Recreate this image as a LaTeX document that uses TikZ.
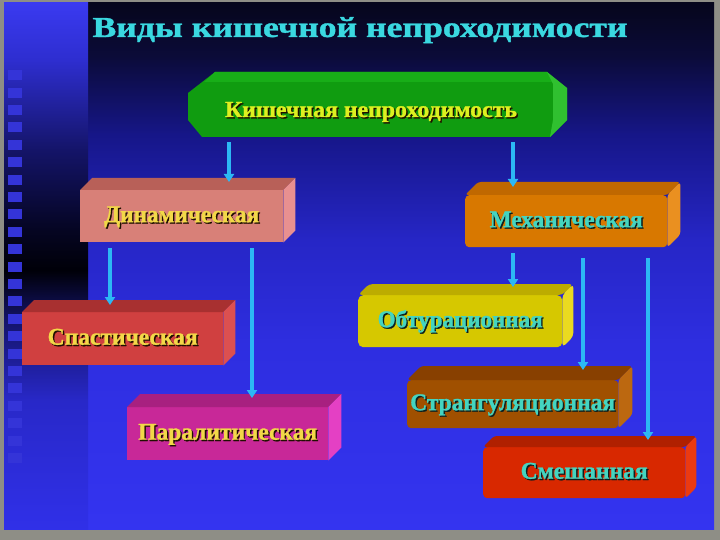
\documentclass[tikz,border=0pt]{standalone}
\usepackage{fontspec}
\setmainfont{Liberation Serif}[BoldFeatures={FakeBold=1.2}]
\usepackage{graphicx}
\usetikzlibrary{calc,arrows.meta}

\definecolor{bordergray}{HTML}{8E8E86}
\definecolor{mBot}{HTML}{3434F0}
\definecolor{mM1}{HTML}{2E2EE0}
\definecolor{mM2}{HTML}{2626C6}
\definecolor{mM3}{HTML}{161688}
\definecolor{mM4}{HTML}{0B0B38}
\definecolor{mTop}{HTML}{06061C}
\definecolor{sBot}{HTML}{3030E8}
\definecolor{s1}{HTML}{2828C8}
\definecolor{s2}{HTML}{14146A}
\definecolor{s3}{HTML}{000008}
\definecolor{s4}{HTML}{050522}
\definecolor{s5}{HTML}{141468}
\definecolor{s6}{HTML}{2E2ED0}
\definecolor{sTop}{HTML}{3A3AF0}
\definecolor{sqcol}{HTML}{3434D8}
\definecolor{arrc}{HTML}{2CB8F4}
\definecolor{titlec}{HTML}{3AD8E0}
\definecolor{ytxt}{HTML}{F2D848}
\definecolor{ctxt}{HTML}{44D4C0}
\definecolor{gtxt}{HTML}{DDF020}
\definecolor{shd}{HTML}{201000}
\definecolor{shdc}{HTML}{0A2020}
% box colours
\definecolor{grF}{HTML}{109C10}
\definecolor{grT}{HTML}{18AE18}
\definecolor{grS}{HTML}{30C030}
\definecolor{dyF}{HTML}{D88078}
\definecolor{dyT}{HTML}{B86058}
\definecolor{dyS}{HTML}{E89090}
\definecolor{spF}{HTML}{D04040}
\definecolor{spT}{HTML}{A83030}
\definecolor{spS}{HTML}{DC5050}
\definecolor{paF}{HTML}{C82898}
\definecolor{paT}{HTML}{A82080}
\definecolor{paS}{HTML}{E440C4}
\definecolor{meF}{HTML}{D87800}
\definecolor{meT}{HTML}{C06800}
\definecolor{meS}{HTML}{EA9020}
\definecolor{obF}{HTML}{D6C800}
\definecolor{obT}{HTML}{BCAC00}
\definecolor{obS}{HTML}{EADA20}
\definecolor{stF}{HTML}{A05000}
\definecolor{stT}{HTML}{884000}
\definecolor{stS}{HTML}{BC6810}
\definecolor{smF}{HTML}{D82800}
\definecolor{smT}{HTML}{B02000}
\definecolor{smS}{HTML}{EC3A10}

\pgfdeclareverticalshading{mainsh}{100bp}{color(0bp)=(mBot); color(25bp)=(mBot); color(42.5bp)=(mM1); color(52.5bp)=(mM2); color(62.5bp)=(mM3); color(70bp)=(mM4); color(75bp)=(mTop); color(100bp)=(mTop)}
\pgfdeclareverticalshading{stripsh}{100bp}{color(0bp)=(sBot); color(25bp)=(sBot); color(37.2bp)=(s1); color(44.8bp)=(s2); color(49.6bp)=(s3); color(53.4bp)=(s4); color(61bp)=(s5); color(69.6bp)=(s6); color(75bp)=(sTop); color(100bp)=(sTop)}

\newcommand\shtxt[4]{\resizebox{#3}{\height}{\rlap{\kern1.4pt\raisebox{-1.4pt}{\color{#2}#4}}{\color{#1}#4}}}

\newcommand\boxfaces[5][]{%
  \fill[#4,#1] (#2.north west) -- ++(#3,-#3) -- ($(#2.north east)+(#3,-#3)$) -- (#2.north east) -- cycle;
  \fill[#5,#1] (#2.north east) -- ++(#3,-#3) -- ($(#2.south east)+(#3,-#3)$) -- (#2.south east) -- cycle;
}

\tikzset{
  face/.style={anchor=north west, inner sep=0pt, text height=12pt, text depth=0pt,
    font=\bfseries\fontsize{24}{26}\selectfont},
  arr/.style={draw=arrc, line width=3.2pt, -{Triangle[length=8pt,width=10pt]}},
}

\begin{document}
\begin{tikzpicture}[x=1pt,y=-1pt]
\useasboundingbox (0,0) rectangle (720,540);
% background
\fill[bordergray] (0,0) rectangle (720,540);
\shade[shading=mainsh] (88,3) rectangle (714,529);
\shade[shading=stripsh] (4,3) rectangle (88,529);
\foreach \k in {-7,...,15} {
  \fill[sqcol] (8,{192+17.4*\k}) rectangle (22,{202+17.4*\k});
}

% title
\node[anchor=base, inner sep=0pt, font=\bfseries\fontsize{29}{32}\selectfont] (title) at (360,37)
  {\resizebox{535pt}{\height}{\color{titlec}Виды кишечной непроходимости}};

% root box (chamfered)
\fill[grF] (215,72) -- (547,72) -- (567,88) -- (567,120) -- (550,137) -- (202,137) -- (188,120) -- (188,93) -- cycle;
\fill[grT] (215,72) -- (547,72) -- (556,82) -- (204,82) -- cycle;
\fill[grS] (547,72) -- (567,88) -- (567,120) -- (550,137) -- (553,120) -- (553,84) -- cycle;
\node[face, anchor=center, minimum width=340pt, minimum height=52pt, font=\bfseries\fontsize{23}{25}\selectfont] (kish) at (371,111)
  {\shtxt{gtxt}{shd}{292pt}{Кишечная непроходимость}};

% level 2
\node[face, fill=dyF, minimum width=203pt, minimum height=52pt] (dyn) at (80,190)
  {\shtxt{ytxt}{shd}{155pt}{Динамическая}};
\boxfaces{dyn}{12}{dyT}{dyS}
\node[face, fill=meF, rounded corners=4pt, minimum width=202pt, minimum height=52pt] (mech) at (465,195)
  {\shtxt{ctxt}{shdc}{153pt}{Механическая}};
\boxfaces[rounded corners=3pt]{mech}{13}{meT}{meS}

% level 3 left
\node[face, fill=spF, minimum width=201pt, minimum height=53pt] (spas) at (22,312)
  {\shtxt{ytxt}{shd}{150pt}{Спастическая}};
\boxfaces{spas}{12}{spT}{spS}
\node[face, fill=paF, minimum width=201pt, minimum height=53pt] (par) at (127,407)
  {\shtxt{ytxt}{shd}{179pt}{Паралитическая}};
\boxfaces{par}{13}{paT}{paS}

% level 3 right
\node[face, fill=obF, rounded corners=5pt, minimum width=204pt, minimum height=52pt] (obt) at (358,295)
  {\shtxt{ctxt}{shdc}{165pt}{Обтурационная}};
\boxfaces[rounded corners=4pt]{obt}{11}{obT}{obS}
\node[face, fill=stF, rounded corners=4pt, minimum width=211pt, minimum height=48pt] (str) at (407,380)
  {\shtxt{ctxt}{shdc}{205pt}{Странгуляционная}};
\boxfaces[rounded corners=3pt]{str}{14}{stT}{stS}
\node[face, fill=smF, rounded corners=4pt, minimum width=202pt, minimum height=51pt] (smes) at (483,447)
  {\shtxt{ctxt}{shdc}{127pt}{Смешанная}};
\boxfaces[rounded corners=3pt]{smes}{11}{smT}{smS}

% connectors
\coordinate (xa) at ([xshift=149pt]dyn.north west);
\coordinate (xb) at ([xshift=48pt]mech.north west);
\coordinate (xc) at ([xshift=88pt]spas.north west);
\coordinate (xd) at ([xshift=125pt]par.north west);
\coordinate (xe) at ([xshift=155pt]obt.north west);
\coordinate (xf) at ([xshift=176pt]str.north west);
\coordinate (xg) at ([xshift=165pt]smes.north west);
\draw[arr] ([yshift=-5pt]kish.south -| xa) -- ([yshift=8pt]xa);
\draw[arr] ([yshift=-5pt]kish.south -| xb) -- ([yshift=8pt]xb);
\draw[arr] ([yshift=-6pt]dyn.south -| xc) -- ([yshift=7pt]xc);
\draw[arr] ([yshift=-6pt]dyn.south -| xd) -- ([yshift=9pt]xd);
\draw[arr] ([yshift=-6pt]mech.south -| xe) -- ([yshift=8pt]xe);
\draw[arr] ([yshift=-11pt]mech.south -| xf) -- ([yshift=10pt]xf);
\draw[arr] ([yshift=-11pt]mech.south -| xg) -- ([yshift=7pt]xg);
\end{tikzpicture}
\end{document}
